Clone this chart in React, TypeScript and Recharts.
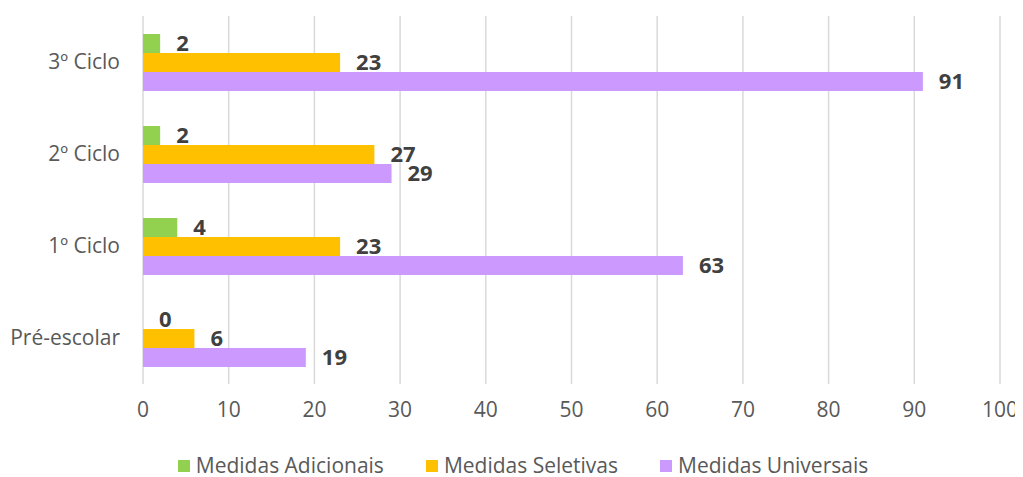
import { BarChart, Bar, XAxis, YAxis, CartesianGrid, Legend, LabelList } from 'recharts'

const categories = ['3º Ciclo', '2º Ciclo', '1º Ciclo', 'Pré-escolar']
const adicionais = [2, 2, 4, 0]
const seletivas = [23, 27, 23, 6]
const universais = [91, 29, 63, 19]
const xTicks = [0, 10, 20, 30, 40, 50, 60, 70, 80, 90, 100]

const series = [
  { key: 'adicionais', name: 'Medidas Adicionais', color: '#92D050' },
  { key: 'seletivas', name: 'Medidas Seletivas', color: '#FFC000' },
  { key: 'universais', name: 'Medidas Universais', color: '#CC99FF' },
]

const FONT = '"Open Sans", sans-serif'

function LegendContent() {
  return (
    <div
      style={{
        height: 48,
        boxSizing: 'border-box',
        paddingTop: 22,
        paddingLeft: 38,
        display: 'flex',
        justifyContent: 'center',
        alignItems: 'flex-start',
        fontFamily: FONT,
        fontSize: 21,
        lineHeight: '29px',
        color: '#595959',
      }}
    >
      {series.map((s, i) => (
        <div key={s.key} style={{ display: 'flex', alignItems: 'center', marginLeft: i === 0 ? 0 : 42 }}>
          <span style={{ width: 12, height: 12, background: s.color, display: 'inline-block', marginRight: 6 }} />
          <span>{s.name}</span>
        </div>
      ))}
    </div>
  )
}

export default function App() {
  const data = categories.map((name, i) => ({
    name,
    adicionais: adicionais[i],
    seletivas: seletivas[i],
    universais: universais[i],
  }))

  return (
    <BarChart
      width={1015}
      height={469}
      data={data}
      layout="vertical"
      margin={{ top: 8, right: 23, left: 0, bottom: 0 }}
      barGap={0}
      barSize={19}
    >
      <CartesianGrid horizontal={false} stroke="#D9D9D9" strokeWidth={1.5} />
      <XAxis
        type="number"
        domain={[0, 100]}
        ticks={xTicks}
        axisLine={false}
        tickLine={false}
        tickSize={0}
        tickMargin={18}
        height={45}
        tick={{ fill: '#595959', fontSize: 21, fontFamily: FONT }}
      />
      <YAxis
        type="category"
        dataKey="name"
        width={135}
        axisLine={false}
        tickLine={false}
        tickSize={0}
        tickMargin={23}
        tick={{ fill: '#595959', fontSize: 21, fontFamily: FONT }}
      />
      <Legend verticalAlign="bottom" content={<LegendContent />} />
      {series.map((s) => (
        <Bar
          key={s.key}
          dataKey={s.key}
          name={s.name}
          fill={s.color}
          minPointSize={(v: number) => (v === 0 ? 0.01 : 0)}
          isAnimationActive={false}
        >
          <LabelList
            dataKey={s.key}
            position="right"
            offset={16}
            fill="#404040"
            fontSize={22}
            fontWeight="bold"
            fontFamily={FONT}
          />
        </Bar>
      ))}
    </BarChart>
  )
}
